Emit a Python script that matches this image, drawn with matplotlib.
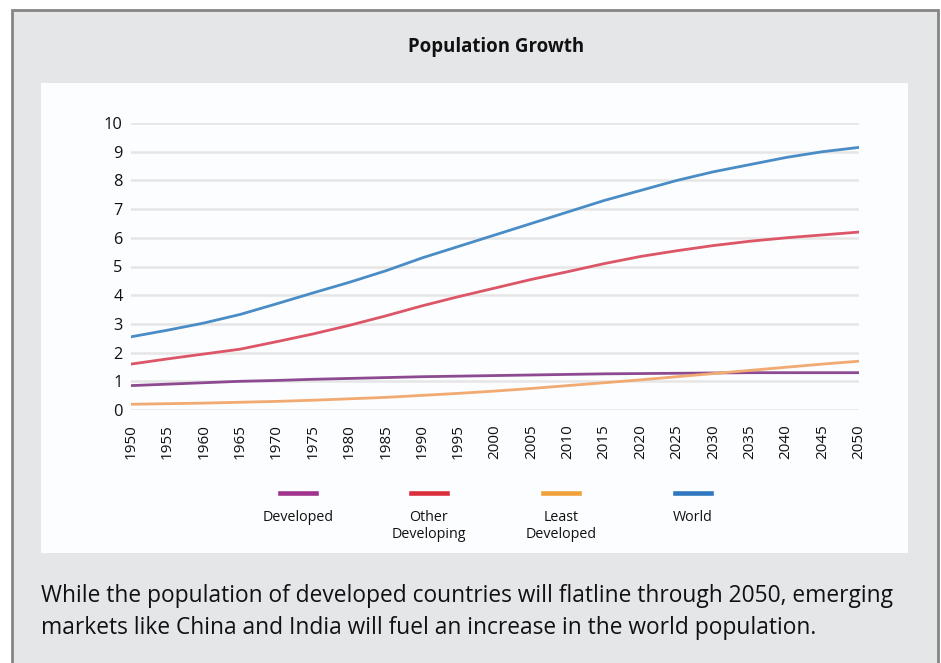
import matplotlib
matplotlib.use("Agg")
import matplotlib.pyplot as plt
from matplotlib.patches import Rectangle
from matplotlib.lines import Line2D

years = [1950, 1955, 1960, 1965, 1970, 1975, 1980, 1985, 1990, 1995, 2000,
         2005, 2010, 2015, 2020, 2025, 2030, 2035, 2040, 2045, 2050]
developed = [0.85, 0.9, 0.95, 1.0, 1.03, 1.07, 1.1, 1.13, 1.16, 1.18, 1.2,
             1.22, 1.24, 1.26, 1.27, 1.28, 1.29, 1.3, 1.3, 1.3, 1.3]
other_developing = [1.6, 1.78, 1.95, 2.12, 2.38, 2.65, 2.95, 3.28, 3.63, 3.95, 4.25,
                    4.55, 4.82, 5.1, 5.35, 5.55, 5.73, 5.88, 6.0, 6.1, 6.2]
least_developed = [0.2, 0.22, 0.24, 0.27, 0.3, 0.34, 0.39, 0.44, 0.51, 0.58, 0.66,
                   0.75, 0.85, 0.95, 1.05, 1.16, 1.27, 1.38, 1.49, 1.6, 1.7]
world = [2.55, 2.78, 3.03, 3.33, 3.7, 4.08, 4.45, 4.85, 5.3, 5.7, 6.1,
         6.5, 6.9, 7.3, 7.65, 8.0, 8.3, 8.55, 8.8, 9.0, 9.15]

series_names = ["Developed", "Other\nDeveloping", "Least\nDeveloped", "World"]
line_colors = ["#8e4a91", "#dc5668", "#f0aa72", "#4a8cc6"]
legend_colors = ["#a0338c", "#d92f3d", "#f0a23a", "#2f78c0"]
title = "Population Growth"
caption = ("While the population of developed countries will flatline through 2050, emerging\n"
           "markets like China and India will fuel an increase in the world population.")

W, H = 941, 663
fig = plt.figure(figsize=(W / 100, H / 100), dpi=100)
fig.patch.set_facecolor("white")

def fx(px):
    return px / W

def fy(py):
    return 1 - py / H

# outer gray box
fig.patches.append(Rectangle((fx(12), fy(700)), fx(926), 690 / H, transform=fig.transFigure,
                             facecolor="#e5e6e8", edgecolor="#858585", linewidth=2, zorder=0))
# white panel
fig.patches.append(Rectangle((fx(41), fy(553)), fx(867), 470 / H, transform=fig.transFigure,
                             facecolor="#fcfdfe", edgecolor="none", zorder=1))

fig.text(fx(496), fy(47), title, ha="center", va="center", fontsize=13.4,
         fontweight="bold", family="Open Sans", color="#111111")

ax = fig.add_axes([fx(131), fy(410), fx(728), (410 - 123) / H])
ax.set_facecolor("none")
ax.set_zorder(3)
series = [developed, other_developing, least_developed, world]
for vals, c in zip(series, line_colors):
    ax.plot(years, vals, color=c, linewidth=2.0, solid_capstyle="round", zorder=3)

ax.set_xlim(1950, 2050)
ax.set_ylim(0, 10)
ax.set_xticks(years)
ax.set_xticklabels([str(y) for y in years], rotation=90, fontsize=11,
                   family="Open Sans", color="#111111")
ax.set_yticks(range(0, 11))
ax.set_yticklabels([str(v) for v in range(0, 11)], fontsize=11.8,
                   family="Open Sans", color="#111111")
ax.tick_params(length=0, pad=6)
ax.tick_params(axis="x", pad=10)
ax.grid(axis="y", color="#e6e6e6", linewidth=1.8)
ax.set_axisbelow(True)
for s in ax.spines.values():
    s.set_visible(False)

# legend
centers = [298, 429, 561, 693]
for cx, name, c in zip(centers, series_names, legend_colors):
    fig.add_artist(Line2D([fx(cx - 18), fx(cx + 18)], [fy(493), fy(493)],
                          transform=fig.transFigure, color=c, linewidth=3.3, zorder=4))
    fig.text(fx(cx), fy(510), name, ha="center", va="top", fontsize=10.3,
             family="Open Sans", color="#111111", linespacing=1.15, zorder=4)

fig.text(fx(41), fy(612), caption, ha="left", va="center", fontsize=16.4,
         family="Open Sans", color="#111111", linespacing=1.42)

fig.savefig("out.png", dpi=100)
